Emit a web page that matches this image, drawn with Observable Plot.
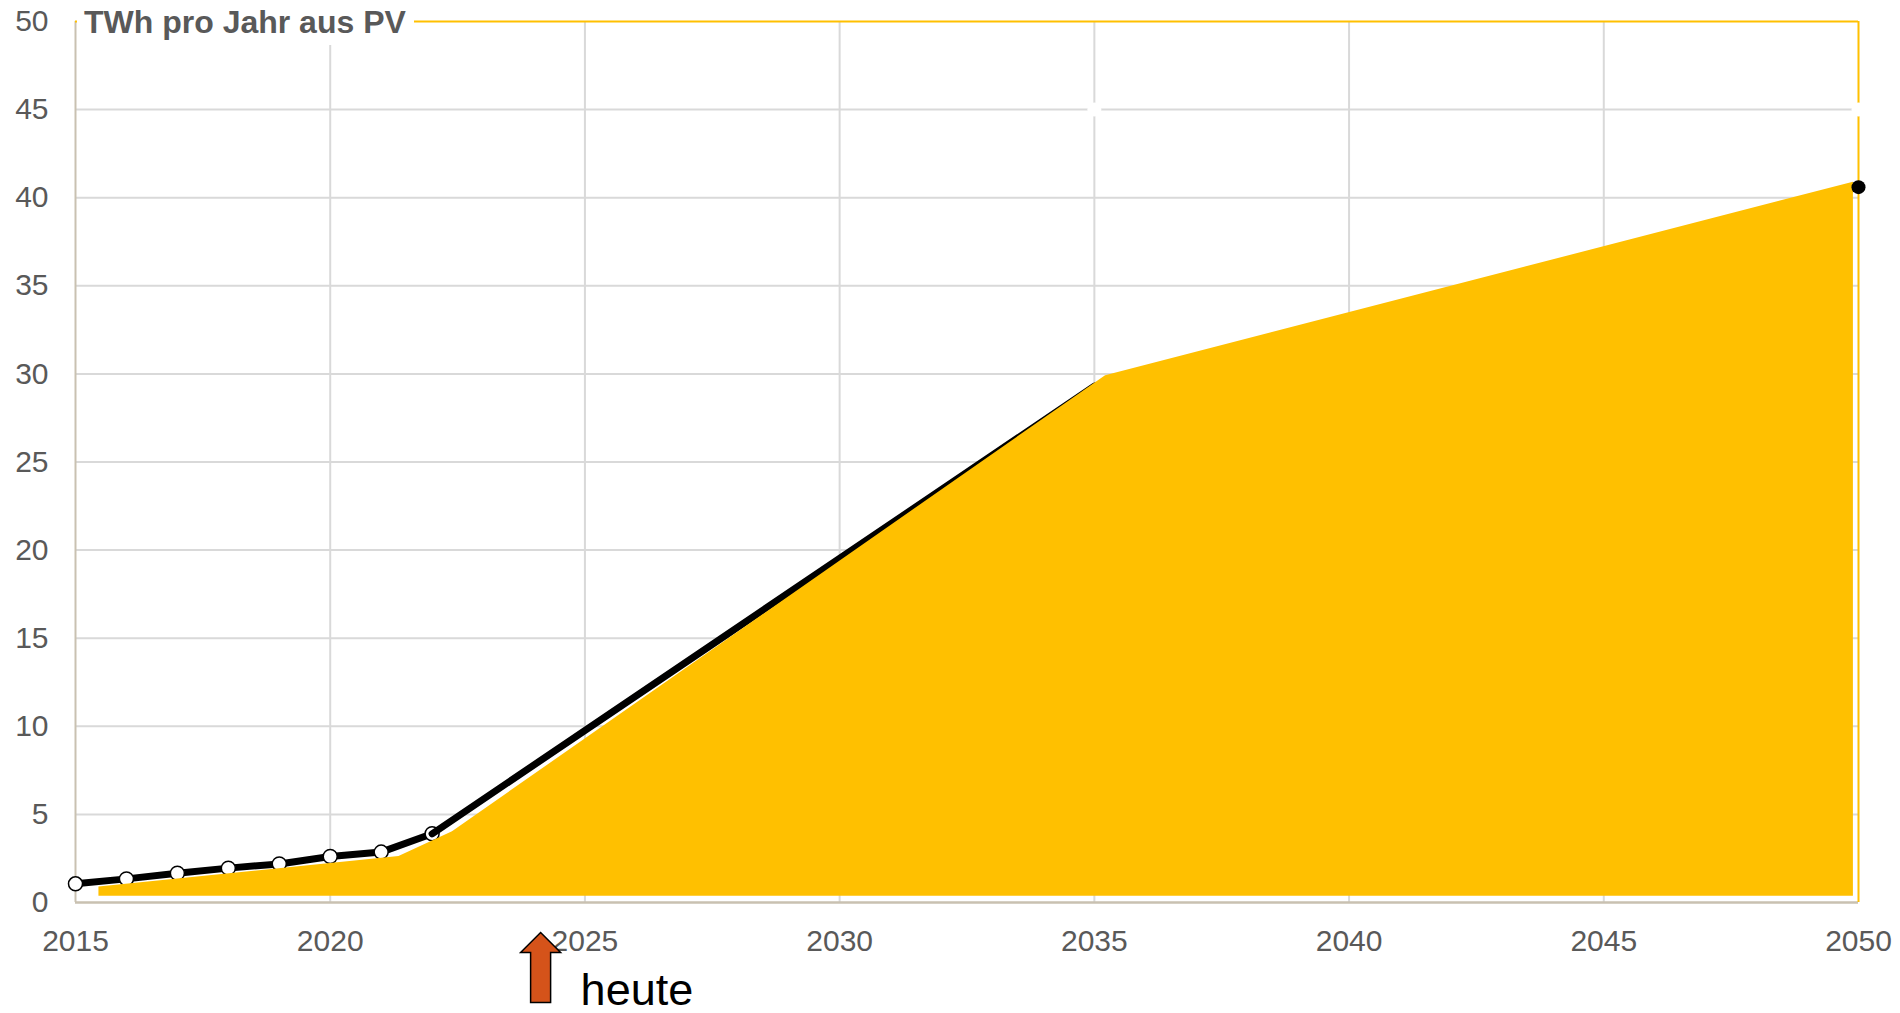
<!DOCTYPE html>
<html><head><meta charset="utf-8">
<script src="https://cdn.jsdelivr.net/npm/d3@7"></script>
<script src="https://cdn.jsdelivr.net/npm/@observablehq/plot@0.6"></script>
<style>
html,body{margin:0;padding:0;background:#fff;}
#wrap{position:relative;width:1900px;height:1013px;overflow:hidden;}
#wrap svg{position:absolute;left:0;top:0;display:block;}
#title{position:absolute;left:77px;top:0;width:337px;height:45px;background:#fff;}
#title span{position:absolute;left:7px;top:6px;font:bold 32px/32px "Liberation Sans",Arial,sans-serif;color:#595959;white-space:nowrap;}
</style></head><body>
<div id="wrap"><div id="title"><span>TWh pro Jahr aus PV</span></div></div>
<script>
// Black line series (TWh per year from PV)
const lineYears  = [2015, 2016, 2017, 2018, 2019, 2020, 2021, 2022, 2035, 2050];
const lineValues = [1.06, 1.34, 1.66, 1.95, 2.19, 2.61, 2.86, 3.9, 29.3, 40.6];
// Yellow area series (top edge vertices) and its baseline
const areaYears  = [2015.46, 2021.35, 2022.4, 2035.22, 2049.9];
const areaValues = [0.88, 2.61, 4.02, 29.9, 40.88];
const areaBase   = 0.36;
// Hidden white markers
const hiddenYears  = [2035, 2050];
const hiddenValues = [45, 45];
// Ticks
const xTicks = [2015, 2020, 2025, 2030, 2035, 2040, 2045, 2050];
const yTicks = [0, 5, 10, 15, 20, 25, 30, 35, 40, 45, 50];
const xGrid = [2020, 2025, 2030, 2035, 2040, 2045];
const yGrid = [5, 10, 15, 20, 25, 30, 35, 40, 45];
// Annotation
const annoLabels = ["heute"];
const annoYears  = [2024.13];

const lineData = lineYears.map((year, i) => ({year, value: lineValues[i]}));
const areaData = areaYears.map((year, i) => ({year, value: areaValues[i], base: areaBase}));
const hiddenData = hiddenYears.map((year, i) => ({year, value: hiddenValues[i]}));
const annoData = annoLabels.map((label, i) => ({label, year: annoYears[i]}));

const GOLD = "#FFC000", BEIGE = "#C9C1B1", GRID = "#D9D9D9", TXT = "#595959";

const blockArrow = {
  draw(ctx, size) {
    const k = Math.sqrt(size / Math.PI) / 10;
    ctx.moveTo(0, -35 * k);
    ctx.lineTo(20 * k, -15 * k);
    ctx.lineTo(10 * k, -15 * k);
    ctx.lineTo(10 * k, 35 * k);
    ctx.lineTo(-10 * k, 35 * k);
    ctx.lineTo(-10 * k, -15 * k);
    ctx.lineTo(-20 * k, -15 * k);
    ctx.closePath();
  }
};

const plot = Plot.plot({
  width: 1900,
  height: 1013,
  marginLeft: 75,
  marginRight: 42,
  marginTop: 21,
  marginBottom: 111,
  x: {domain: [2015, 2050]},
  y: {domain: [0, 50]},
  style: {fontFamily: "'Liberation Sans', Arial, sans-serif", background: "white", overflow: "visible"},
  marks: [
    Plot.gridX(xGrid, {stroke: GRID, strokeOpacity: 1, strokeWidth: 2}),
    Plot.gridY(yGrid, {stroke: GRID, strokeOpacity: 1, strokeWidth: 2}),
    Plot.ruleX([2015], {stroke: BEIGE, strokeWidth: 2}),
    Plot.ruleY([0], {stroke: BEIGE, strokeWidth: 2.5}),
    Plot.ruleY([50], {stroke: GOLD, strokeWidth: 2}),
    Plot.ruleX([2050], {stroke: GOLD, strokeWidth: 2}),
    Plot.dot(hiddenData, {x: "year", y: "value", r: 7, fill: "white"}),
    Plot.axisY(yTicks, {tickSize: 0, tickPadding: 27, fontSize: 30, color: TXT, label: null}),
    Plot.axisX(xTicks, {tickSize: 0, tickPadding: 27, fontSize: 30, color: TXT, label: null, tickFormat: d => String(d)}),
    Plot.line(lineData.filter(d => d.year <= 2022), {x: "year", y: "value", stroke: "black", strokeWidth: 7}),
    Plot.dot(lineData.filter(d => d.year <= 2022), {x: "year", y: "value", r: 7, fill: "white", stroke: "black", strokeWidth: 1.5}),
    Plot.line(lineData.filter(d => d.year >= 2022), {x: "year", y: "value", stroke: "black", strokeWidth: 7}),
    Plot.areaY(areaData, {x: "year", y1: "base", y2: "value", fill: GOLD}),
    Plot.dot(lineData.filter(d => d.year === 2050), {x: "year", y: "value", r: 7, fill: "black"}),
    Plot.dot(annoData, {x: "year", y: () => 0, dy: 65, symbol: blockArrow, r: 10, fill: "#D5531A", stroke: "black", strokeWidth: 1.5}),
    Plot.text(annoData, {x: "year", y: () => 0, text: "label", textAnchor: "start", lineAnchor: "bottom", dx: 40, dy: 102, fontSize: 45, fill: "black"})
  ]
});
document.getElementById("wrap").insertBefore(plot, document.getElementById("title"));
</script>
</body></html>
